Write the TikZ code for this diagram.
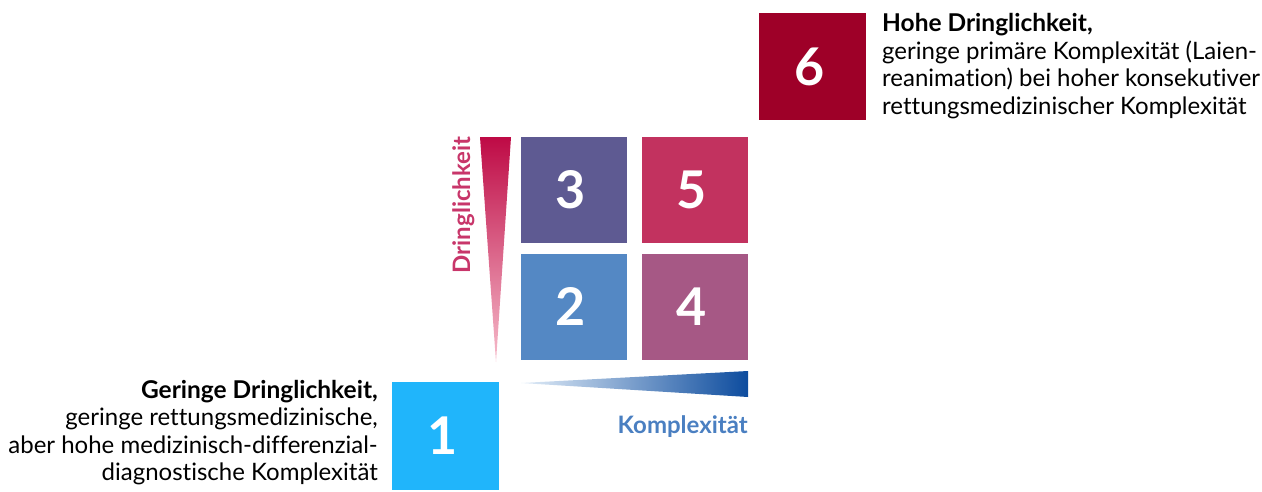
\documentclass[tikz,border=0pt]{standalone}
\usepackage{fontspec}
\setmainfont{Lato}[Ligatures=NoCommon]
\definecolor{c6}{HTML}{9E0028}
\definecolor{c3}{HTML}{5E5A92}
\definecolor{c5}{HTML}{C2325F}
\definecolor{c2}{HTML}{5488C4}
\definecolor{c4}{HTML}{A65885}
\definecolor{c1}{HTML}{20B5FB}
\definecolor{dtext}{HTML}{C8366A}
\definecolor{ktext}{HTML}{4A7FC1}
\definecolor{dtop}{HTML}{BE0A45}
\definecolor{dbot}{HTML}{F6BCCB}
\definecolor{kleft}{HTML}{E2EDF8}
\definecolor{kright}{HTML}{0D4C9E}
\begin{document}
\begin{tikzpicture}[x=1pt,y=-1pt,
  numbox/.style={draw=none,inner sep=0,minimum width=106pt,minimum height=106pt},
  numtext/.style={inner sep=0,font=\fontsize{52}{52}\selectfont\bfseries,text=white},
  desc/.style={inner sep=0,font=\fontsize{24}{27.5}\selectfont},
  deschead/.style={inner sep=0,font=\fontsize{24.5}{27.5}\selectfont\bfseries},
  axislabel/.style={inner sep=0,font=\fontsize{24}{24}\selectfont\bfseries}]
\useasboundingbox (0,0) rectangle (1262,491);
\node[numbox,fill=c6,minimum width=107pt,minimum height=107pt] (b6) at (812.5,66.5) {};
\node[numbox,fill=c3] (b3) at (573.5,189.5) {};
\node[numbox,fill=c5] (b5) at (694.5,189.5) {};
\node[numbox,fill=c2] (b2) at (573.5,306.5) {};
\node[numbox,fill=c4] (b4) at (694.5,306.5) {};
\node[numbox,fill=c1,minimum width=107pt,minimum height=108pt] (b1) at (445.5,436) {};
\node[numtext] (n6) at ([xshift=-3pt]b6.center) {6};
\node[numtext] (n3) at ([xshift=-3pt]b3.center) {3};
\node[numtext] (n5) at ([xshift=-3pt]b5.center) {5};
\node[numtext] (n2) at ([xshift=-3pt]b2.center) {2};
\node[numtext] (n4) at ([xshift=-3pt]b4.center) {4};
\node[numtext] (n1) at ([xshift=-3pt]b1.center) {1};
\shade[top color=dtop,bottom color=dbot] (480,137) -- (511,137) -- (496,362) -- cycle;
\shade[left color=kleft,right color=kright] (521,383) -- (748,371) -- (748,397) -- cycle;
\node[axislabel,text=dtext,rotate=90,anchor=base] (dl) at (470,205) {Dringlichkeit};
\node[axislabel,text=ktext,anchor=base east] (kl) at (748,433) {Komplexität};
\node[deschead,anchor=base west] (t6a) at (882,31.5) {Hohe Dringlichkeit,};
\node[desc,anchor=base west] (t6b) at (882,59) {geringe primäre Komplexität (Laien-};
\node[desc,anchor=base west] (t6c) at (882,86.5) {reanimation) bei hoher konsekutiver};
\node[desc,anchor=base west] (t6d) at (882,114) {rettungsmedizinischer Komplexität};
\node[deschead,anchor=base east] (t1a) at (378,398) {Geringe Dringlichkeit,};
\node[desc,anchor=base east] (t1b) at (378,425.5) {geringe rettungsmedizinische,};
\node[desc,anchor=base east] (t1c) at (378,453) {aber hohe medizinisch-differenzial-};
\node[desc,anchor=base east] (t1d) at (378,480.5) {diagnostische Komplexität};
\end{tikzpicture}
\end{document}
